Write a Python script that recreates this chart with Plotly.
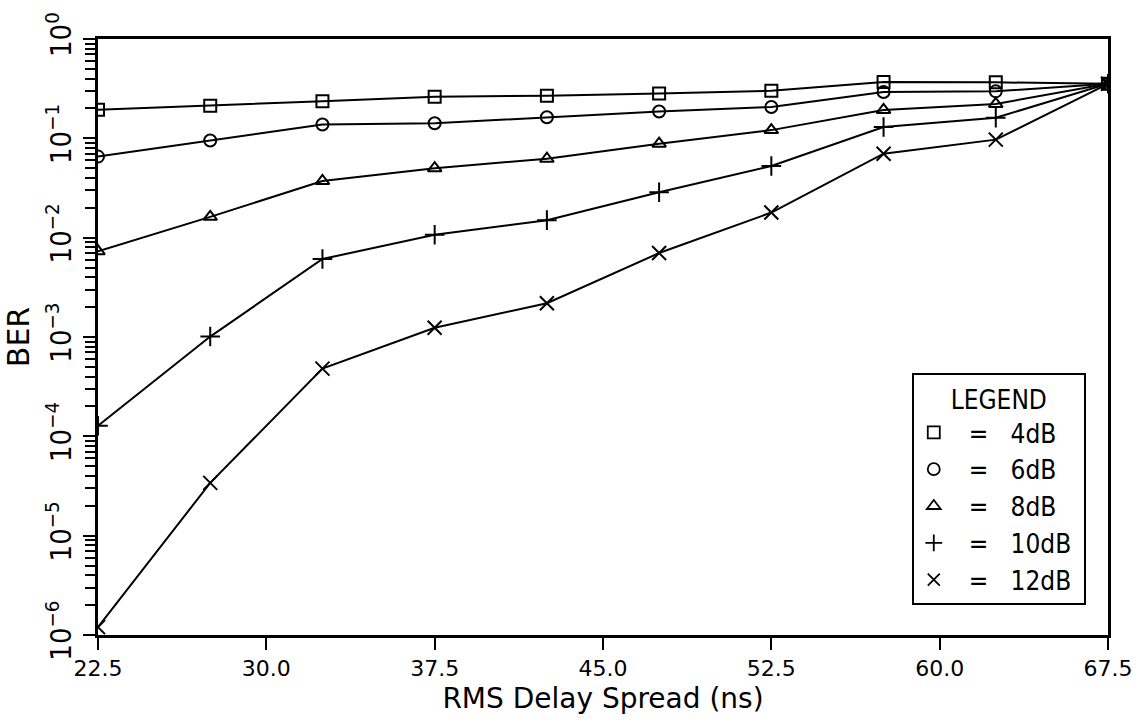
import plotly.graph_objects as go

delay_ns = [22.5, 27.5, 32.5, 37.5, 42.5, 47.5, 52.5, 57.5, 62.5, 67.5]
ber_4db = [0.194, 0.213, 0.236, 0.262, 0.269, 0.282, 0.301, 0.369, 0.366, 0.354]
ber_6db = [0.0655, 0.095, 0.138, 0.142, 0.163, 0.186, 0.207, 0.293, 0.297, 0.354]
ber_8db = [0.0073, 0.0162, 0.0372, 0.0501, 0.0623, 0.0883, 0.121, 0.193, 0.222, 0.354]
ber_10db = [1.28e-4, 1.01e-3, 6.1e-3, 0.0107, 0.0150, 0.0287, 0.0527, 0.130, 0.161, 0.354]
ber_12db = [1.2e-6, 3.4e-5, 4.8e-4, 1.24e-3, 2.19e-3, 7.0e-3, 0.0179, 0.070, 0.097, 0.354]

series_names = ["4dB", "6dB", "8dB", "10dB", "12dB"]
series_values = [ber_4db, ber_6db, ber_8db, ber_10db, ber_12db]
symbols = ["square-open", "circle-open", "triangle-up-open", "cross-thin-open", "x-thin-open"]
sizes = [12, 12, 12, 14, 14]

x_ticks = [22.5, 30.0, 37.5, 45.0, 52.5, 60.0, 67.5]
x_ticktext = ["22.5", "30.0", "37.5", "45.0", "52.5", "60.0", "67.5"]
y_ticks = [1e-6, 1e-5, 1e-4, 1e-3, 1e-2, 1e-1, 1e0]
y_ticktext = ["10<sup>−6</sup>", "10<sup>−5</sup>", "10<sup>−4</sup>", "10<sup>−3</sup>",
              "10<sup>−2</sup>", "10<sup>−1</sup>", "10<sup>0</sup>"]

minor_vals = [m * 10 ** e for e in range(-6, 0) for m in range(2, 10)]

NB = "\u00a0"
legend_font = "Liberation Sans Narrow, DejaVu Sans Condensed, Liberation Sans"

fig = go.Figure()
for name, vals, sym, sz in zip(series_names, series_values, symbols, sizes):
    fig.add_trace(go.Scatter(
        x=delay_ns, y=vals, mode="lines+markers", showlegend=False,
        line=dict(color="black", width=2),
        marker=dict(symbol=sym, size=sz, color="black", line=dict(color="black", width=2)),
    ))
for name, sym in zip(series_names, symbols):
    fig.add_trace(go.Scatter(
        x=[None], y=[None], mode="markers", name=NB * 2 + "=" + NB * 3 + name + NB,
        marker=dict(symbol=sym, size=12, color="black", line=dict(color="black", width=1.8)),
    ))

fig.update_layout(
    width=1148, height=725,
    margin=dict(l=98, r=40, t=37, b=90),
    paper_bgcolor="white", plot_bgcolor="white",
    font=dict(family="DejaVu Sans", color="black"),
    legend=dict(
        x=0.978, y=0.05, xanchor="right", yanchor="bottom",
        bgcolor="white", bordercolor="black", borderwidth=2,
        font=dict(family=legend_font, size=26),
        title=dict(text="LEGEND", side="top center", font=dict(family=legend_font, size=26)),
        tracegroupgap=0, itemwidth=30,
    ),
)
fig.update_xaxes(
    range=[22.5, 67.5], tickmode="array", tickvals=x_ticks, ticktext=x_ticktext,
    ticks="outside", ticklen=12, tickwidth=2, tickcolor="black",
    showline=True, linecolor="black", linewidth=3, mirror=True,
    showgrid=False, zeroline=False,
    tickfont=dict(size=22, family="DejaVu Sans"),
    title=dict(text="RMS Delay Spread (ns)", font=dict(size=28, family="DejaVu Sans"), standoff=8),
)
fig.update_yaxes(
    type="log", range=[-6, 0], tickmode="array", tickvals=y_ticks, ticktext=y_ticktext,
    ticks="outside", ticklen=12, tickwidth=2, tickcolor="black", tickangle=-90,
    showline=True, linecolor="black", linewidth=3, mirror=True,
    showgrid=False, zeroline=False,
    tickfont=dict(size=29, family="DejaVu Sans Condensed, DejaVu Sans"),
    minor=dict(tickmode="array", tickvals=minor_vals, ticks="outside", ticklen=10,
               tickwidth=2, tickcolor="black", showgrid=False),
    title=dict(text="BER", font=dict(size=30, family="DejaVu Sans"), standoff=2),
)

fig.write_html("out.html")
